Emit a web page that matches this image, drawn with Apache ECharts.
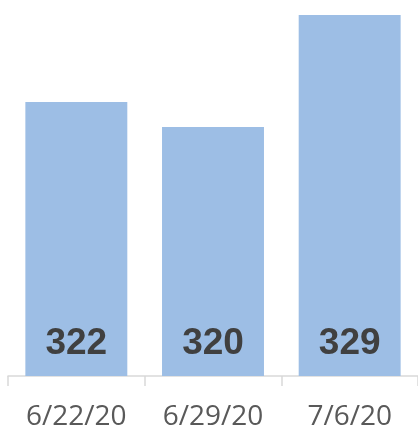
<!DOCTYPE html>
<html>
<head>
<meta charset="utf-8">
<script src="https://cdn.jsdelivr.net/npm/echarts@6/dist/echarts.min.js"></script>
<style>
  html, body { margin: 0; padding: 0; background: #fff; }
  #chart { width: 418px; height: 432px; }
</style>
</head>
<body>
<div id="chart"></div>
<script>
// 数据
const categories = ['6/22/20', '6/29/20', '7/6/20']
const values = [322, 320, 329]

const chart = echarts.init(document.getElementById('chart'))

chart.setOption({
  animation: false,
  grid: {
    left: 8,
    width: 414,
    top: 2.5,
    bottom: 56
  },
  xAxis: {
    type: 'category',
    data: categories,
    axisLine: {
      lineStyle: { color: '#d9d9d9', width: 1.5 }
    },
    axisTick: {
      show: true,
      length: 10,
      lineStyle: { color: '#d9d9d9', width: 1.5 }
    },
    axisLabel: {
      color: '#595959',
      fontFamily: 'Open Sans',
      fontSize: 28,
      margin: 27
    }
  },
  yAxis: {
    type: 'value',
    min: 300,
    max: 330,
    show: false
  },
  series: [{
    type: 'bar',
    data: values,
    barWidth: '74.6%',
    itemStyle: { color: '#9dbee5' },
    label: {
      show: true,
      position: 'insideBottom',
      distance: 14,
      color: '#404040',
      fontFamily: 'Liberation Sans',
      fontWeight: 'bold',
      fontSize: 37
    }
  }]
})
</script>
</body>
</html>
